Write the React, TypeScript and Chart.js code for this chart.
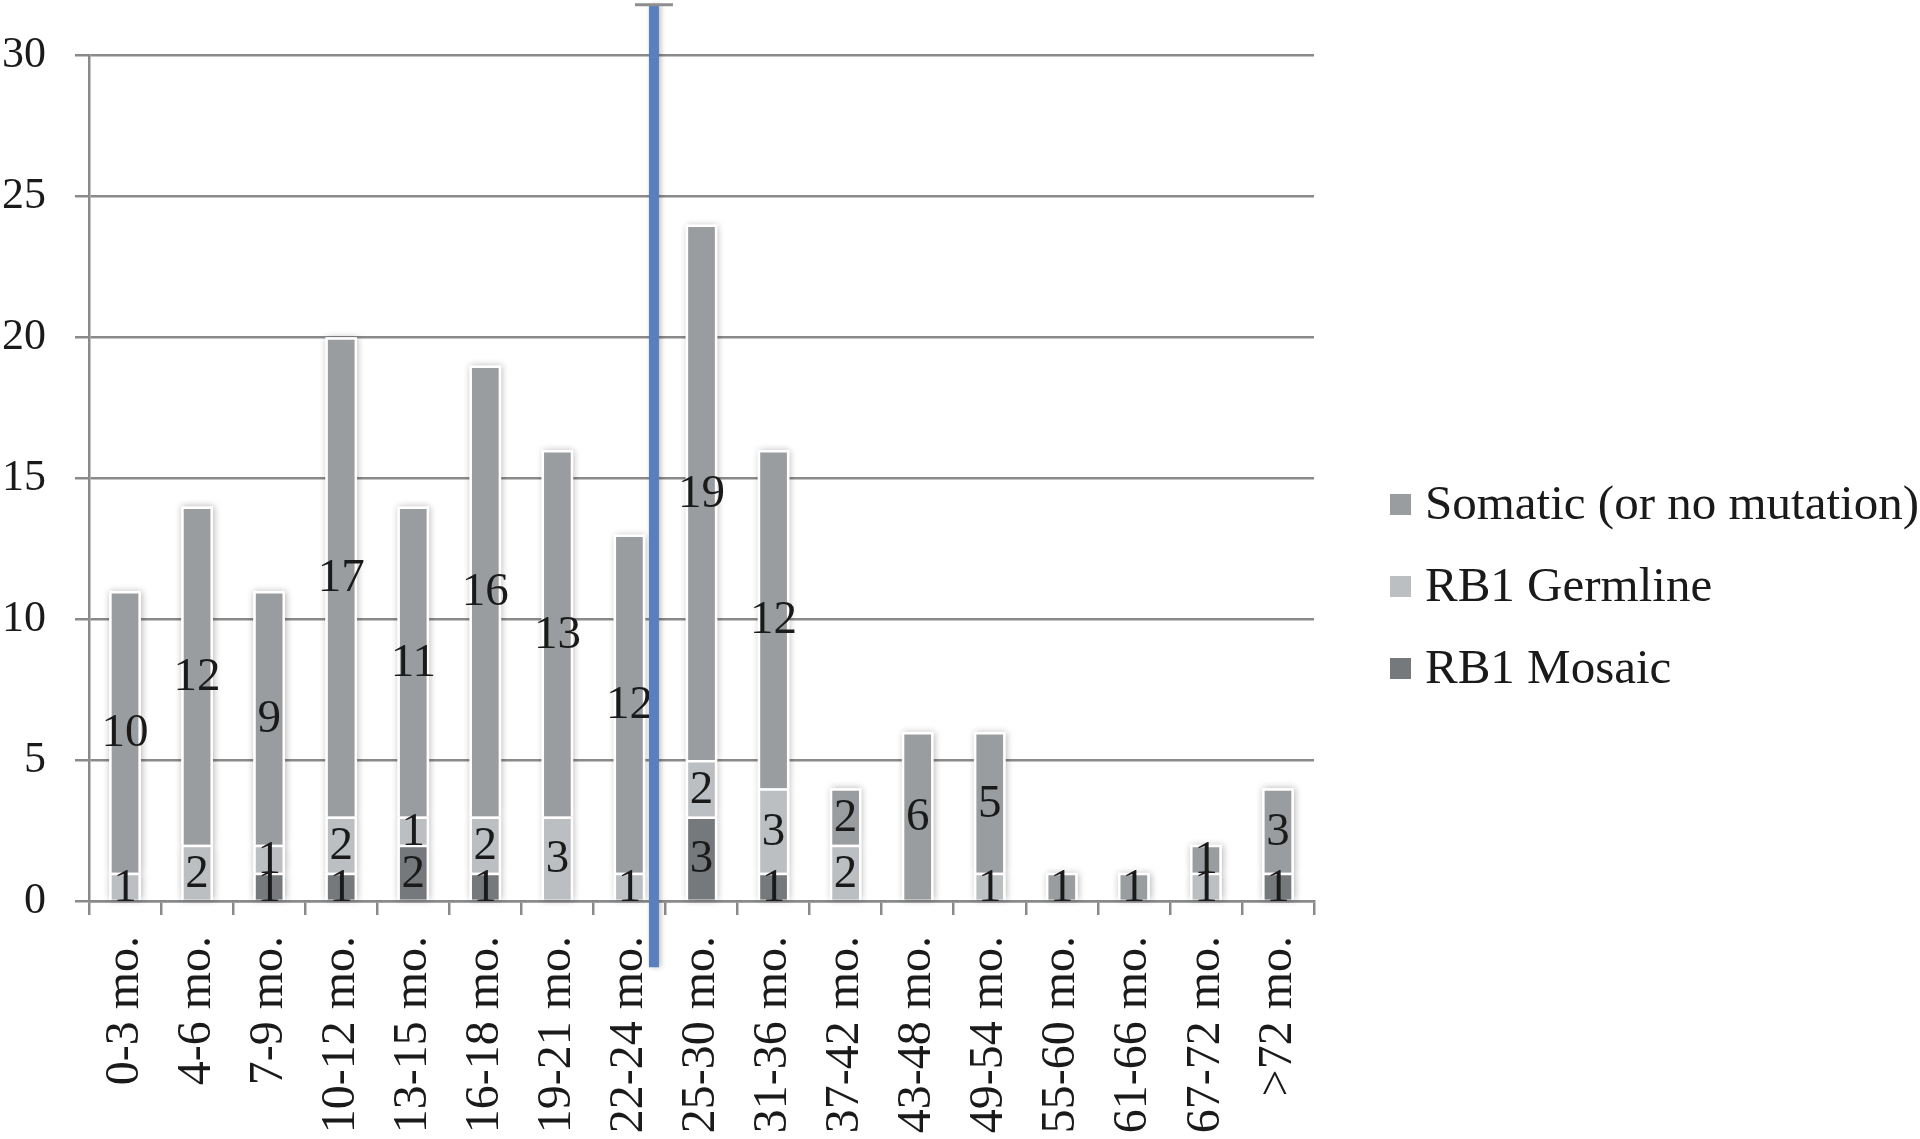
import React, { useEffect, useRef } from "react";
import { Chart, registerables } from "chart.js";

Chart.register(...registerables);

// ---------------- data ----------------
const categories = [
  "0-3 mo.", "4-6 mo.", "7-9 mo.", "10-12 mo.", "13-15 mo.", "16-18 mo.",
  "19-21 mo.", "22-24 mo.", "25-30 mo.", "31-36 mo.", "37-42 mo.", "43-48 mo.",
  "49-54 mo.", "55-60 mo.", "61-66 mo.", "67-72 mo.", ">72 mo.",
];
const mosaicValues = [0, 0, 1, 1, 2, 1, 0, 0, 3, 1, 0, 0, 0, 0, 0, 0, 1];
const germlineValues = [1, 2, 1, 2, 1, 2, 3, 1, 2, 3, 2, 0, 1, 0, 0, 1, 0];
const somaticValues = [10, 12, 9, 17, 11, 16, 13, 12, 19, 12, 2, 6, 5, 1, 1, 1, 3];
const seriesLabels = ["RB1 Mosaic", "RB1 Germline", "Somatic (or no mutation)"];
const yMin = 0;
const yMax = 30;
const yStep = 5;
// vertical marker (in data space: category index / value)
const markerIndex = 7.34;
const markerTop = 31.8;
const markerBottom = -2.35;

// ---------------- styles ----------------
const colors = ["#76797c", "#bcbfc2", "#9a9da0"];
const gridColor = "#8a8a8a";
const textColor = "#1a1a1a";
const fontFamily = "'Liberation Serif', 'Times New Roman', serif";

const barHaloPlugin = {
  id: "barHalo",
  beforeDatasetsDraw(chart: any) {
    const ctx = chart.ctx;
    ctx.save();
    ctx.shadowColor = "rgba(0,0,0,0.30)";
    ctx.shadowBlur = 7;
    ctx.shadowOffsetX = 1;
    ctx.shadowOffsetY = 0;
    ctx.fillStyle = "#ffffff";
    chart.data.datasets.forEach((ds: any, di: number) => {
      const meta = chart.getDatasetMeta(di);
      meta.data.forEach((el: any, i: number) => {
        if (!ds.data[i]) return;
        const p = el.getProps(["x", "y", "base", "width"], true);
        const top = Math.min(p.y, p.base);
        const h = Math.abs(p.base - p.y);
        ctx.fillRect(p.x - p.width / 2, top, p.width, h);
      });
    });
    ctx.restore();
  },
};

const valueLabelPlugin = {
  id: "valueLabels",
  afterDatasetsDraw(chart: any) {
    const ctx = chart.ctx;
    ctx.save();
    ctx.font = `47px ${fontFamily}`;
    ctx.fillStyle = textColor;
    ctx.textAlign = "center";
    ctx.textBaseline = "middle";
    chart.data.datasets.forEach((ds: any, di: number) => {
      const meta = chart.getDatasetMeta(di);
      meta.data.forEach((el: any, i: number) => {
        const v = ds.data[i];
        if (!v) return;
        const p = el.getProps(["x", "y", "base"], true);
        ctx.fillText(String(v), p.x, (p.y + p.base) / 2 + 2);
      });
    });
    ctx.restore();
  },
};

const markerPlugin = {
  id: "marker",
  afterDatasetsDraw(chart: any) {
    const ctx = chart.ctx;
    const xs = chart.scales.x;
    const ys = chart.scales.y;
    const x = xs.getPixelForValue(markerIndex);
    const yTop = ys.getPixelForValue(markerTop);
    const yBot = ys.getPixelForValue(markerBottom);
    ctx.save();
    ctx.shadowColor = "rgba(0,0,0,0.25)";
    ctx.shadowBlur = 5;
    ctx.shadowOffsetX = 2;
    ctx.fillStyle = "#5a7fbf";
    ctx.fillRect(x - 5, yTop, 10, yBot - yTop);
    ctx.shadowColor = "transparent";
    ctx.strokeStyle = "#8e8e8e";
    ctx.lineWidth = 3;
    ctx.beginPath();
    ctx.moveTo(x - 19, yTop);
    ctx.lineTo(x + 19, yTop);
    ctx.stroke();
    ctx.restore();
  },
};

const sideLegendPlugin = {
  id: "sideLegend",
  afterDraw(chart: any) {
    const ctx = chart.ctx;
    const area = chart.chartArea;
    const left = area.right + 76;
    const firstBaseline = 519;
    const rowGap = 82;
    const box = 21;
    ctx.save();
    ctx.font = `49px ${fontFamily}`;
    ctx.textAlign = "left";
    ctx.textBaseline = "alphabetic";
    const n = chart.data.datasets.length;
    for (let r = 0; r < n; r++) {
      const ds = chart.data.datasets[n - 1 - r];
      const base = firstBaseline + r * rowGap;
      ctx.fillStyle = ds.backgroundColor;
      ctx.fillRect(left, base - 4 - box, box, box);
      ctx.fillStyle = textColor;
      ctx.fillText(ds.label, left + 35, base);
    }
    ctx.restore();
  },
};

export default function App() {
  const canvasRef = useRef<HTMLCanvasElement | null>(null);

  useEffect(() => {
    document.body.style.margin = "0";
    const canvas = canvasRef.current;
    if (!canvas) return;
    const seriesValues = [mosaicValues, germlineValues, somaticValues];
    const chart = new Chart(canvas, {
      type: "bar",
      data: {
        labels: categories,
        datasets: seriesValues.map((vals, i) => ({
          label: seriesLabels[i],
          data: vals,
          backgroundColor: colors[i],
          borderColor: "#ffffff",
          borderWidth: 2.5,
          borderSkipped: "start",
          categoryPercentage: 1,
          barPercentage: 0.44,
        })),
      },
      options: {
        responsive: false,
        animation: false,
        events: [],
        layout: { padding: { left: 2, right: 606, top: 46, bottom: 0 } },
        plugins: {
          legend: { display: false },
          tooltip: { enabled: false },
          title: { display: false },
        },
        scales: {
          x: {
            stacked: true,
            afterFit: (scale: any) => {
              scale.height = 238;
            },
            grid: {
              offset: true,
              drawOnChartArea: false,
              drawTicks: true,
              tickLength: 14,
              color: gridColor,
              lineWidth: 2.5,
            },
            border: { display: true, color: gridColor, width: 2.5 },
            ticks: {
              autoSkip: false,
              minRotation: 90,
              maxRotation: 90,
              padding: 21,
              color: textColor,
              font: { family: fontFamily, size: 48 },
            },
          },
          y: {
            stacked: true,
            min: yMin,
            max: yMax,
            afterFit: (scale: any) => {
              scale.width = 87;
            },
            grid: {
              color: gridColor,
              lineWidth: 2.5,
              tickLength: 14,
            },
            border: { display: true, color: gridColor, width: 2.5 },
            ticks: {
              stepSize: yStep,
              padding: 29,
              color: textColor,
              font: { family: fontFamily, size: 44 },
            },
          },
        },
      },
      plugins: [barHaloPlugin, valueLabelPlugin, markerPlugin, sideLegendPlugin],
    });
    return () => chart.destroy();
  }, []);

  return (
    <canvas
      ref={canvasRef}
      width={1920}
      height={1139}
      style={{ display: "block", width: "1920px", height: "1139px" }}
    />
  );
}
